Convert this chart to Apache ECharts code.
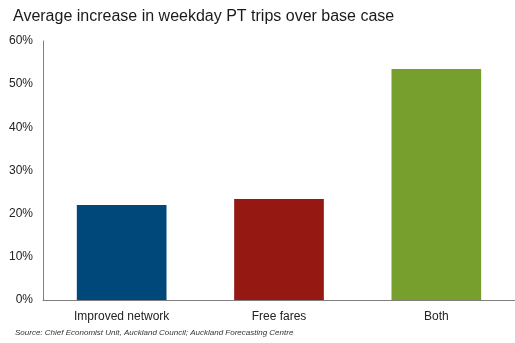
<!DOCTYPE html>
<html><head><meta charset="utf-8">
<script src="https://cdn.jsdelivr.net/npm/echarts@6/dist/echarts.min.js"></script>
<style>html,body{margin:0;padding:0;background:#fff}#c{width:515px;height:343px}</style>
</head><body><div id="c"></div>
<script>
const categories = ["Improved network", "Free fares", "Both"];
const values = [22.0, 23.4, 53.5];
const colors = ["#00477a", "#951812", "#779f2e"];
const yTicks = [0, 10, 20, 30, 40, 50, 60];

const chart = echarts.init(document.getElementById('c'), null, {renderer: 'canvas'});
chart.setOption({
  animation: false,
  backgroundColor: '#fff',
  title: [{
    text: 'Average increase in weekday PT trips over base case',
    left: 8, top: 4,
    textStyle: {fontFamily: 'Liberation Sans, Arial', fontSize: 16, fontWeight: 'normal', color: '#1a1a1a'}
  }, {
    text: 'Source: Chief Economist Unit, Auckland Council; Auckland Forecasting Centre',
    left: 10, top: 324,
    textStyle: {fontFamily: 'Liberation Sans, Arial', fontSize: 8, fontStyle: 'italic', fontWeight: 'normal', color: '#333'}
  }],
  grid: {left: 43, right: 0, top: 41, bottom: 43, containLabel: false},
  xAxis: {
    type: 'category', data: categories,
    axisLine: {lineStyle: {color: '#7f7f7f', width: 1}},
    axisTick: {show: false},
    axisLabel: {fontFamily: 'Liberation Sans, Arial', fontSize: 12, color: '#222', margin: 11}
  },
  yAxis: {
    type: 'value', min: yTicks[0], max: yTicks[yTicks.length - 1], interval: 10,
    axisLine: {show: true, lineStyle: {color: '#7f7f7f', width: 1}},
    axisTick: {show: false},
    splitLine: {show: false},
    axisLabel: {formatter: '{value}%', fontFamily: 'Liberation Sans, Arial', fontSize: 12, color: '#222', margin: 10}
  },
  series: [{
    type: 'bar', barWidth: '57%',
    data: values.map((v, i) => ({value: v, itemStyle: {color: colors[i]}}))
  }]
});
</script></body></html>
